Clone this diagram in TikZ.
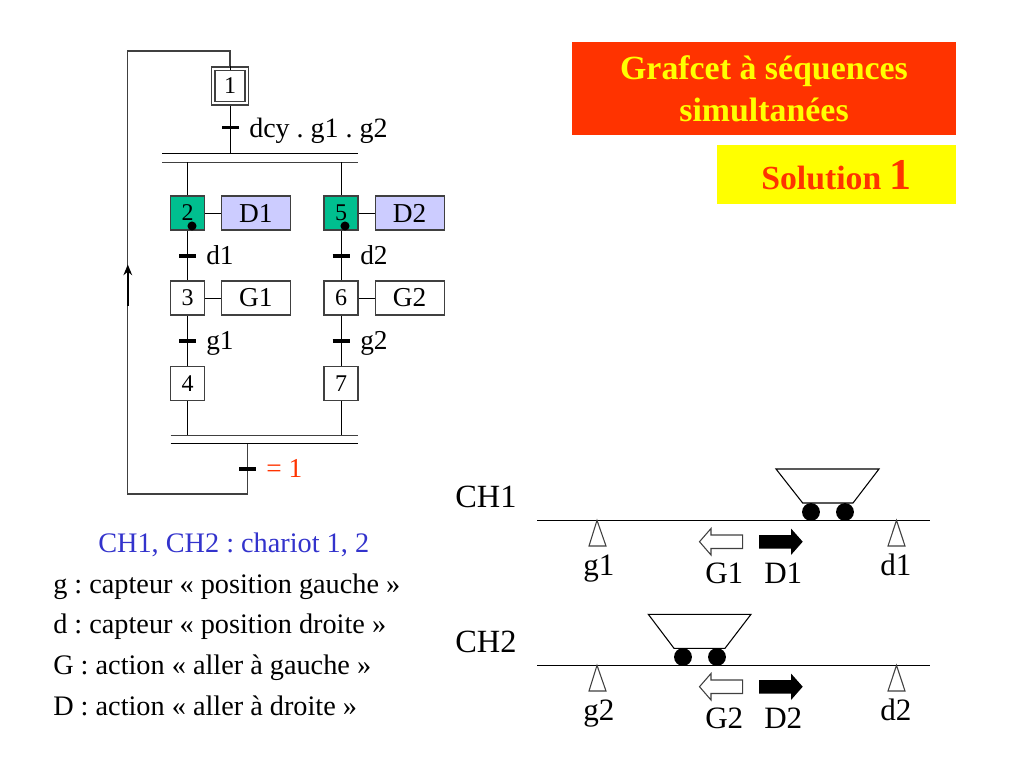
\documentclass[tikz,border=0pt]{standalone}
\usepackage{fontspec}
\setmainfont{Liberation Serif}
\usetikzlibrary{arrows.meta}
\frenchspacing
\definecolor{stepgreen}{HTML}{00BF8F}
\definecolor{actblue}{HTML}{CCCCFF}
\definecolor{titlered}{HTML}{FF3300}
\definecolor{titleyel}{HTML}{FFFF00}
\definecolor{solyel}{HTML}{FFFF00}
\definecolor{txtblue}{HTML}{3333CC}
\definecolor{linegray}{HTML}{404040}
\newcommand{\fs}[1]{\fontsize{#1}{#1}\selectfont}
\tikzset{
  x=0.75pt,y=-0.75pt,
  wire/.style={draw=black,line width=0.75pt},
  loopwire/.style={draw=linegray,line width=0.9pt},
  stepbox/.style={draw=linegray,line width=0.8pt,fill=white,minimum width=25.5pt,minimum height=25.5pt,inner sep=0pt,font=\fs{18}},
  activestep/.style={stepbox,fill=stepgreen},
  actbox/.style={draw=linegray,line width=0.8pt,fill=white,minimum width=51.8pt,minimum height=25.5pt,inner sep=0pt,font=\fs{20.5}},
  activeact/.style={actbox,fill=actblue},
  tick/.style={draw=black,line width=2.6pt},
  lbl/.style={anchor=base west,inner sep=0pt,font=\fs{20.5}},
  big/.style={anchor=base west,inner sep=0pt,font=\fs{23.3}},
  note/.style={anchor=base west,inner sep=0pt,font=\fs{21.2}},
  ch/.style={anchor=base west,inner sep=0pt,font=\fs{24.3}},
  track/.style={draw=black,line width=0.8pt},
  sensor/.style={draw=linegray,line width=0.8pt,fill=white},
  cart/.style={draw=black,line width=0.8pt,fill=white},
  wheel/.style={fill=black,draw=none},
  moveg/.style={draw=linegray,line width=0.8pt,fill=white},
  moved/.style={fill=black,draw=none}
}
\begin{document}
\begin{tikzpicture}
\useasboundingbox (0,0) rectangle (1024,768);
% title
\fill[titlered] (572,42) rectangle (956,135);
\fill[solyel] (717,145) rectangle (956,204);
\node[anchor=base,inner sep=0pt,font=\fs{25.4}\bfseries,text=titleyel] (t1) at (764,79) {Grafcet à séquences};
\node[anchor=base,inner sep=0pt,font=\fs{25.4}\bfseries,text=titleyel] (t2) at (764,121) {simultanées};
\node[anchor=base west,inner sep=0pt,font=\fs{25.3}\bfseries,text=titlered] (t3) at (761,189) {Solution {\fs{33}1}};
% steps
\node[stepbox,minimum width=27.8pt,minimum height=28.5pt] (s1) at (230,86) {};
\node[stepbox,minimum width=22.5pt,minimum height=23.2pt] (s1i) at (230,86) {1};
\node[activestep] (s2) at (187.5,213) {2};
\node[activestep] (s5) at (341,213) {5};
\node[stepbox] (s3) at (187.5,298) {3};
\node[stepbox] (s6) at (341,298) {6};
\node[stepbox] (s4) at (187.5,383.5) {4};
\node[stepbox] (s7) at (341,383.5) {7};
\node[activeact] (a1) at (255.8,213) {D1};
\node[activeact] (a2) at (409.6,213) {D2};
\node[actbox] (a3) at (255.8,298) {G1};
\node[actbox] (a4) at (409.6,298) {G2};
% junction bars
\coordinate (b1l) at (162,153.5); \coordinate (b1r) at (358,153.5);
\coordinate (b2l) at (162,162); \coordinate (b2r) at (358,162);
\coordinate (b3l) at (170.5,435); \coordinate (b3r) at (358,435);
\coordinate (b4l) at (170.5,443.7); \coordinate (b4r) at (358,443.7);
\draw[wire] (b1l) -- (b1r);
\draw[wire,draw=linegray] (b2l) -- (b2r);
\draw[wire,draw=linegray] (b3l) -- (b3r);
\draw[wire] (b4l) -- (b4r);
% connectors
\draw[wire] (s1.south) -- (s1.south |- b1l);
\draw[wire] (s2.north) -- (s2.north |- b2l);
\draw[wire] (s5.north) -- (s5.north |- b2l);
\draw[wire] (s2.south) -- (s3.north);
\draw[wire] (s5.south) -- (s6.north);
\draw[wire] (s3.south) -- (s4.north);
\draw[wire] (s6.south) -- (s7.north);
\draw[wire] (s4.south) -- (s4.south |- b3l);
\draw[wire] (s7.south) -- (s7.south |- b3l);
\draw[wire] (s2.east) -- (a1.west);
\draw[wire] (s5.east) -- (a2.west);
\draw[wire] (s3.east) -- (a3.west);
\draw[wire] (s6.east) -- (a4.west);
\draw[wire] (s1.north) -- (s1i.north);
% loop
\coordinate (lp0) at (247.3,443.7);
\coordinate (lp1) at (247.3,494);
\coordinate (lp2) at (127.8,494);
\coordinate (lp3) at (127.8,51);
\coordinate (lp4) at (230,51);
\draw[loopwire] (lp0) -- (lp1) -- (lp2) -- (lp3) -- (lp4) -- (s1.north);
\coordinate (ar0) at (127.8,306);
\coordinate (ar1) at (127.8,264.5);
\draw[line width=1.6pt,-{Stealth[length=8pt,width=6.5pt]}] (ar0) -- (ar1);
% tokens
\fill (192,226) circle (3.4pt);
\fill (345,226) circle (3.4pt);
% ticks
\draw[tick] (222,127.7) -- (239,127.7);
\draw[tick] (179,256) -- (196,256);
\draw[tick] (332.5,256) -- (349.5,256);
\draw[tick] (179,341) -- (196,341);
\draw[tick] (332.5,341) -- (349.5,341);
\draw[tick] (239,469) -- (256,469);
% transition labels
\node[lbl,font=\fs{21}] (l0) at (249,137) {dcy . g1 . g2};
\node[lbl] (l1) at (206,264) {d1};
\node[lbl] (l2) at (360,264) {d2};
\node[lbl] (l3) at (206,349) {g1};
\node[lbl] (l4) at (360,349) {g2};
\node[lbl,text=titlered] (l5) at (266,477) {= 1};
% legend
\node[note,text=txtblue] (n0) at (98,552) {CH1, CH2 : chariot 1, 2};
\node[note] (n1) at (53,593) {g : capteur « position gauche »};
\node[note] (n2) at (53,633) {d : capteur « position droite »};
\node[note] (n3) at (53,674) {G : action « aller à gauche »};
\node[note] (n4) at (53,715) {D : action « aller à droite »};
% chariot 1
\node[ch] (c1) at (455,507) {CH1};
\draw[track] (537,520.3) -- (930,520.3);
\draw[sensor] (597,520.3) -- (589,546) -- (606,546) -- cycle;
\draw[sensor] (896.5,520.3) -- (888,546) -- (905,546) -- cycle;
\draw[cart] (776,469) -- (879,469) -- (853,503) -- (802.7,503) -- cycle;
\fill[wheel] (811,512) circle (6.7pt);
\fill[wheel] (845,512) circle (6.7pt);
\draw[moveg] (742.7,535) -- (711,535) -- (711,528.5) -- (699.5,541.7) -- (711,555) -- (711,548.5) -- (742.7,548.5) -- cycle;
\fill[moved] (759,535) -- (791,535) -- (791,528.5) -- (802.7,541.7) -- (791,555) -- (791,548.5) -- (759,548.5) -- cycle;
\node[big] (g1) at (583,575) {g1};
\node[big] (gg1) at (705,583) {G1};
\node[big] (dd1) at (764,583) {D1};
\node[big] (d1) at (880,575) {d1};
% chariot 2
\node[ch] (c2) at (455,652) {CH2};
\draw[track] (537,665.3) -- (930,665.3);
\draw[sensor] (597,665.3) -- (589,691) -- (606,691) -- cycle;
\draw[sensor] (896.5,665.3) -- (888,691) -- (905,691) -- cycle;
\draw[cart] (648.3,614.3) -- (751,614.3) -- (725,648.3) -- (674,648.3) -- cycle;
\fill[wheel] (683,657) circle (6.7pt);
\fill[wheel] (717,657) circle (6.7pt);
\draw[moveg] (742.7,680) -- (711,680) -- (711,673.5) -- (699.5,686.7) -- (711,700) -- (711,693.5) -- (742.7,693.5) -- cycle;
\fill[moved] (759,680) -- (791,680) -- (791,673.5) -- (802.7,686.7) -- (791,700) -- (791,693.5) -- (759,693.5) -- cycle;
\node[big] (g2) at (583,720) {g2};
\node[big] (gg2) at (705,728) {G2};
\node[big] (dd2) at (764,728) {D2};
\node[big] (d2) at (880,720) {d2};
\end{tikzpicture}
\end{document}
